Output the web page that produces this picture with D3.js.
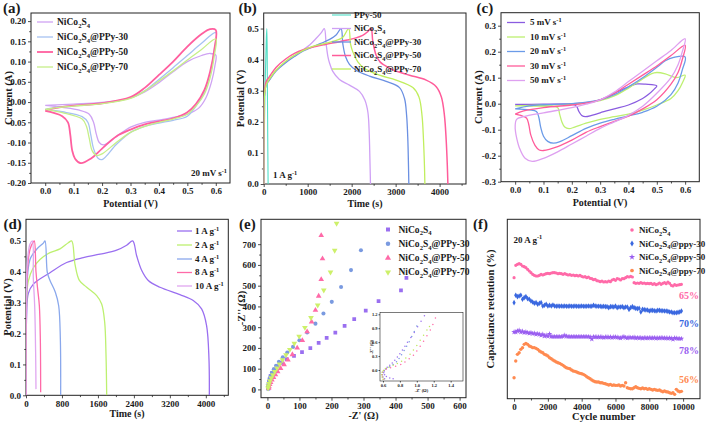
<!DOCTYPE html>
<html><head><meta charset="utf-8">
<script src="https://cdn.jsdelivr.net/npm/d3@7"></script>
<style>
body{margin:0;background:#fff}
svg text{font-family:"Liberation Serif","Times New Roman",serif;font-weight:bold;fill:#1a1a1a}
</style></head><body>
<svg id="c" width="709" height="424"></svg>
<script>
// ---------------- DATA ----------------
// (a) CV at 20 mV/s  [V, I]
const aNiCo = [[0,-0.008],[0.1,-0.005],[0.2,-0.001],[0.3,0.01],[0.35,0.025],[0.4,0.048],[0.45,0.075],[0.5,0.1],[0.55,0.115],[0.58,0.12],[0.6,0.116],[0.597,0.09],[0.585,0.05],[0.565,0.01],[0.54,-0.015],[0.5,-0.03],[0.45,-0.038],[0.4,-0.045],[0.35,-0.05],[0.3,-0.062],[0.25,-0.085],[0.205,-0.106],[0.19,-0.1],[0.18,-0.08],[0.17,-0.05],[0.155,-0.03],[0.12,-0.02],[0.06,-0.013],[0,-0.008]];
const aP30 = [[0,-0.018],[0.05,-0.012],[0.1,-0.009],[0.2,-0.003],[0.3,0.01],[0.35,0.028],[0.4,0.056],[0.45,0.085],[0.5,0.115],[0.55,0.145],[0.6,0.172],[0.595,0.13],[0.58,0.07],[0.56,0.025],[0.53,-0.01],[0.5,-0.035],[0.45,-0.045],[0.4,-0.052],[0.35,-0.06],[0.3,-0.075],[0.25,-0.105],[0.2,-0.142],[0.185,-0.138],[0.17,-0.115],[0.16,-0.08],[0.15,-0.05],[0.13,-0.036],[0.06,-0.024],[0,-0.018]];
const aP50 = [[0,-0.02],[0.05,-0.013],[0.1,-0.009],[0.2,-0.003],[0.3,0.012],[0.35,0.035],[0.4,0.067],[0.45,0.1],[0.5,0.137],[0.55,0.168],[0.58,0.18],[0.6,0.178],[0.595,0.13],[0.58,0.075],[0.56,0.03],[0.53,-0.005],[0.5,-0.025],[0.45,-0.04],[0.4,-0.048],[0.35,-0.055],[0.3,-0.068],[0.25,-0.085],[0.2,-0.115],[0.16,-0.14],[0.125,-0.151],[0.105,-0.14],[0.095,-0.12],[0.088,-0.08],[0.08,-0.05],[0.06,-0.035],[0.03,-0.027],[0,-0.022]];
const aP70 = [[0,-0.018],[0.05,-0.013],[0.1,-0.01],[0.2,-0.004],[0.3,0.009],[0.35,0.027],[0.4,0.052],[0.45,0.077],[0.5,0.104],[0.55,0.13],[0.6,0.156],[0.595,0.115],[0.58,0.06],[0.56,0.02],[0.53,-0.01],[0.5,-0.03],[0.45,-0.042],[0.4,-0.05],[0.35,-0.06],[0.3,-0.075],[0.25,-0.1],[0.2,-0.128],[0.18,-0.132],[0.165,-0.12],[0.155,-0.09],[0.145,-0.06],[0.13,-0.042],[0.06,-0.026],[0,-0.018]];
const aNames = ["NiCo_2S_4","NiCo_2S_4@PPy-30","NiCo_2S_4@PPy-50","NiCo_2S_4@PPy-70"];
const aXTicks = [0,0.1,0.2,0.3,0.4,0.5,0.6];
const aYTicks = [-0.2,-0.15,-0.1,-0.05,0,0.05,0.1,0.15,0.2];

// (b) GCD at 1 A/g  [t, V]
const bPPy = [[0,0],[30,0.3],[60,0.47],[72,0.5],[82,0.35],[92,0.15],[100,0]];
const bNiCo = [[0,0],[5,0.2],[20,0.29],[60,0.32],[130,0.335],[280,0.365],[500,0.392],[700,0.413],[900,0.432],[1050,0.448],[1190,0.468],[1306,0.486],[1378,0.5],[1420,0.45],[1460,0.41],[1495,0.39],[1571,0.362],[1722,0.336],[1950,0.318],[2178,0.298],[2300,0.27],[2370,0.23],[2400,0.16],[2415,0.08],[2428,0]];
const bP30 = [[0,0],[5,0.2],[20,0.29],[60,0.32],[130,0.334],[280,0.363],[500,0.39],[700,0.41],[900,0.428],[1100,0.44],[1300,0.452],[1500,0.465],[1646,0.479],[1758,0.5],[1800,0.45],[1860,0.41],[1950,0.385],[2102,0.366],[2405,0.347],[2785,0.33],[3088,0.31],[3202,0.275],[3250,0.22],[3278,0.14],[3292,0.06],[3300,0]];
const bP50 = [[0,0],[5,0.2],[20,0.3],[60,0.33],[130,0.345],[280,0.375],[500,0.402],[700,0.42],[900,0.432],[1100,0.44],[1400,0.449],[1700,0.457],[1900,0.463],[2100,0.47],[2250,0.478],[2350,0.488],[2440,0.5],[2480,0.46],[2557,0.414],[2650,0.392],[2747,0.382],[2936,0.367],[3316,0.35],[3695,0.334],[3923,0.313],[4040,0.28],[4110,0.22],[4150,0.14],[4175,0.06],[4188,0]];
const bP70 = [[0,0],[5,0.2],[20,0.29],[60,0.32],[130,0.337],[280,0.366],[500,0.395],[700,0.414],[900,0.43],[1100,0.442],[1400,0.452],[1650,0.462],[1800,0.472],[1932,0.5],[1975,0.45],[2026,0.425],[2140,0.393],[2291,0.372],[2633,0.35],[3012,0.334],[3392,0.31],[3530,0.28],[3600,0.22],[3634,0.14],[3655,0.06],[3665,0]];
const bNames = ["PPy-50","NiCo_2S_4","NiCo_2S_4@PPy-30","NiCo_2S_4@PPy-50","NiCo_2S_4@PPy-70"];
const bXTicks = [0,1000,2000,3000,4000];
const bYTicks = [0,0.1,0.2,0.3,0.4,0.5];

// (c) CV of NiCo2S4@PPy-50 at several scan rates [V, I]
const c5 = [[0,-0.003],[0.1,-0.002],[0.2,0.0],[0.25,0.004],[0.3,0.015],[0.35,0.04],[0.4,0.065],[0.43,0.076],[0.46,0.075],[0.5,0.068],[0.49,0.055],[0.47,0.035],[0.45,0.02],[0.4,-0.005],[0.35,-0.02],[0.3,-0.035],[0.27,-0.045],[0.248,-0.05],[0.235,-0.045],[0.225,-0.03],[0.218,-0.012],[0.21,-0.005],[0.1,-0.003],[0,-0.003]];
const c10 = [[0,-0.008],[0.1,-0.005],[0.2,-0.002],[0.3,0.012],[0.35,0.03],[0.4,0.06],[0.45,0.095],[0.48,0.115],[0.5,0.12],[0.53,0.115],[0.57,0.1],[0.6,0.11],[0.59,0.08],[0.575,0.05],[0.55,0.02],[0.5,-0.005],[0.45,-0.025],[0.4,-0.04],[0.35,-0.05],[0.3,-0.06],[0.25,-0.075],[0.21,-0.09],[0.19,-0.096],[0.175,-0.09],[0.165,-0.07],[0.157,-0.04],[0.15,-0.015],[0.12,-0.01],[0.05,-0.009],[0,-0.008]];
const c20 = [[0,-0.02],[0.05,-0.008],[0.1,-0.004],[0.2,0.0],[0.3,0.015],[0.35,0.035],[0.4,0.065],[0.45,0.1],[0.5,0.14],[0.53,0.165],[0.56,0.178],[0.6,0.18],[0.59,0.13],[0.575,0.08],[0.55,0.035],[0.5,-0.01],[0.45,-0.033],[0.4,-0.047],[0.35,-0.06],[0.3,-0.075],[0.25,-0.095],[0.2,-0.123],[0.16,-0.145],[0.135,-0.152],[0.115,-0.145],[0.1,-0.125],[0.09,-0.09],[0.083,-0.05],[0.075,-0.03],[0.05,-0.024],[0,-0.02]];
const c30 = [[0,-0.04],[0.03,-0.028],[0.1,-0.015],[0.2,-0.005],[0.25,0.002],[0.3,0.015],[0.35,0.04],[0.4,0.075],[0.45,0.11],[0.5,0.145],[0.55,0.185],[0.6,0.225],[0.59,0.17],[0.575,0.12],[0.55,0.075],[0.5,0.015],[0.45,-0.02],[0.4,-0.048],[0.35,-0.068],[0.3,-0.088],[0.25,-0.11],[0.2,-0.14],[0.15,-0.165],[0.1,-0.18],[0.085,-0.178],[0.07,-0.16],[0.055,-0.12],[0.048,-0.08],[0.04,-0.055],[0.02,-0.045],[0,-0.04]];
const c50 = [[0,-0.095],[0.005,-0.06],[0.03,-0.05],[0.1,-0.035],[0.2,-0.015],[0.25,-0.002],[0.3,0.015],[0.35,0.045],[0.4,0.085],[0.45,0.125],[0.5,0.165],[0.55,0.205],[0.6,0.25],[0.59,0.2],[0.575,0.15],[0.55,0.1],[0.5,0.04],[0.45,-0.01],[0.4,-0.045],[0.35,-0.07],[0.3,-0.095],[0.25,-0.125],[0.2,-0.155],[0.15,-0.185],[0.1,-0.21],[0.06,-0.222],[0.035,-0.21],[0.015,-0.17],[0.003,-0.12],[0,-0.095]];
const cNames = ["5 mV s^-1","10 mV s^-1","20 mV s^-1","30 mV s^-1","50 mV s^-1"];
const cXTicks = [0,0.1,0.2,0.3,0.4,0.5,0.6];
const cYTicks = [-0.3,-0.2,-0.1,0,0.1,0.2,0.3];

// (d) GCD of NiCo2S4@PPy-50 at several current densities [t, V]
const d1 = [[0,0],[15,0.26],[52,0.33],[163,0.36],[534,0.397],[904,0.43],[1275,0.446],[1646,0.457],[2016,0.47],[2239,0.486],[2373,0.5],[2461,0.452],[2572,0.405],[2720,0.372],[2980,0.35],[3424,0.326],[3720,0.307],[3906,0.28],[4017,0.226],[4070,0.118],[4078,0]];
const d2 = [[0,0],[20,0.33],[52,0.37],[150,0.41],[311,0.44],[534,0.462],[756,0.474],[941,0.494],[1016,0.5],[1090,0.424],[1187,0.372],[1350,0.35],[1572,0.323],[1683,0.296],[1750,0.237],[1780,0.129],[1795,0]];
const d4 = [[0,0],[15,0.33],[89,0.44],[237,0.473],[386,0.493],[423,0.5],[475,0.397],[534,0.372],[653,0.334],[727,0.29],[764,0.183],[771,0]];
const d8 = [[0,0],[30,0.4],[89,0.473],[163,0.497],[185,0.5],[222,0.4],[260,0.343],[297,0.29],[319,0.18],[326,0.01]];
const d10 = [[0,0],[30,0.43],[89,0.49],[141,0.5],[163,0.378],[193,0.29],[215,0.129],[222,0.02]];
const dNames = ["1 A g^-1","2 A g^-1","4 A g^-1","8 A g^-1","10 A g^-1"];
const dXTicks = [0,800,1600,2400,3200,4000];
const dYTicks = [0,0.1,0.2,0.3,0.4,0.5];

// (e) Nyquist plots [Z', -Z'']
const eNiCo = [[434,538],[417,477],[347,425],[307,380],[271,339],[241,306],[212,274],[185,248],[160,224],[134,199],[108,180],[83,162],[60,146],[45,128],[32,112],[22,96],[15,80],[10,65],[7,50],[5,36],[4,24],[3,12],[3,4]];
const eP30 = [[292,671],[261,575],[230,494],[201,422],[175,366],[150,317],[124,274],[100,237],[80,205],[62,178],[48,155],[36,133],[27,114],[20,97],[14,80],[10,64],[7,50],[5,36],[3,23],[2,11],[2,3]];
const eP50 = [[168,742],[172,630],[168,530],[160,450],[150,382],[138,326],[124,278],[109,236],[93,200],[78,168],[64,142],[52,120],[41,102],[32,86],[25,71],[19,58],[14,46],[10,34],[7,24],[5,14],[4,6]];
const eP70 = [[216,800],[210,670],[197,565],[176,478],[157,406],[136,346],[117,298],[99,256],[84,222],[70,192],[58,166],[47,142],[38,122],[30,103],[23,86],[17,70],[12,55],[8,41],[5,28],[3,16],[2,6]];
const eNames = ["NiCo_2S_4","NiCo_2S_4@PPy-30","NiCo_2S_4@PPy-50","NiCo_2S_4@PPy-70"];
const eXTicks = [0,100,200,300,400,500,600];
const eYTicks = [0,100,200,300,400,500,600,700];
// inset (high-frequency region)
const iNiCo = [[0.72,-0.19],[0.68,-0.17],[0.64,-0.14],[0.62,-0.1],[0.61,-0.06],[0.615,-0.02],[0.63,0.02],[0.65,0.06],[0.68,0.1],[0.71,0.15],[0.74,0.21],[0.77,0.28],[0.8,0.35],[0.83,0.43],[0.86,0.51],[0.89,0.6],[0.93,0.7],[0.97,0.81],[1.01,0.93],[1.05,1.05],[1.09,1.17]];
const iP30 = [[0.62,-0.19],[0.6,-0.15],[0.595,-0.1],[0.6,-0.05],[0.615,-0.01],[0.64,0.03],[0.68,0.07],[0.72,0.12],[0.76,0.18],[0.79,0.25],[0.82,0.33],[0.85,0.42],[0.88,0.51],[0.91,0.61],[0.94,0.72],[0.97,0.83],[1.0,0.95]];
const iP50 = [[0.61,-0.2],[0.595,-0.15],[0.59,-0.1],[0.595,-0.05],[0.61,-0.01],[0.64,0.02],[0.69,0.05],[0.75,0.08],[0.81,0.12],[0.86,0.17],[0.91,0.24],[0.96,0.32],[1.0,0.41],[1.04,0.51],[1.08,0.62],[1.12,0.74],[1.16,0.86],[1.19,0.98],[1.22,1.12]];
const iP70 = [[0.6,-0.2],[0.59,-0.15],[0.585,-0.1],[0.59,-0.05],[0.605,-0.01],[0.63,0.03],[0.67,0.06],[0.72,0.1],[0.77,0.14],[0.82,0.19],[0.87,0.26],[0.92,0.34],[0.96,0.43],[1.0,0.53],[1.04,0.64],[1.08,0.75],[1.12,0.86],[1.15,0.94]];
const iXTicks = [0.6,0.8,1.0,1.2,1.4];
const iYTicks = [0,0.3,0.6,0.9,1.2];

// (f) cycling stability at 20 A/g, one point every 100 cycles (vertical offsets as plotted)
const fCycles = d3.range(0, 10000, 100);
const fNiCo = [77.0,84.4,85.0,85.4,85.0,84.0,83.6,83.0,82.0,81.0,80.0,79.0,78.4,78.0,78.0,78.4,79.0,78.6,79.0,79.4,79.6,79.4,79.8,80.0,80.0,79.8,79.4,79.6,79.4,79.0,79.4,79.0,78.6,78.8,78.4,78.6,78.2,78.4,78.0,78.4,77.8,77.4,77.6,77.0,77.4,76.6,76.4,75.8,76.0,75.2,75.0,74.6,75.0,74.4,74.6,74.4,75.0,74.6,75.6,76.0,75.4,76.4,76.2,75.6,76.4,76.4,77.0,77.6,77.4,77.8,77.4,74.0,73.6,73.8,73.6,74.0,73.6,73.8,73.4,73.6,73.4,73.6,73.0,73.4,72.8,73.2,73.8,73.0,73.6,74.0,73.4,74.4,73.6,72.4,72.0,72.8,72.4,72.6,72.8,73.0];
const fP30 = [62,66.4,65.6,66,66.4,64,65,65.6,64.4,64,63,62.4,61.6,62,61,61.6,62,60,60.4,61,60,60.4,60,60.6,60,59.8,60,59.8,60,59.8,60,59.8,59.8,60,59.8,59.8,60,59.8,59.8,59.8,60,59.8,59.8,59.8,60,59.8,59.8,60.4,60,59.8,59.8,59.8,59.6,59.8,59.6,59.6,59,59.6,59.6,59.4,60,59,59.4,59.4,59.6,59,59.4,59.4,58,59,59.6,59,58.6,58.4,58.6,56.4,58,57.8,57.6,57.6,57,57.4,57.4,57.2,57,57.4,57.4,57.2,57.2,57,57,56.8,56.4,56.4,56,56,56,56.2,56.4,57];
const fP50 = [44.4,44.4,45,45.4,44.4,44.8,44,44.4,44,43.6,44,43.4,43.6,43,43.4,43,42.4,43,42,42.4,41.8,43.2,41.6,41.6,41.6,41.6,41.6,41.6,41.6,41.8,42.4,41.8,41.6,41.6,41.6,41.6,41.6,41.6,41.6,41.6,41.6,41.6,41.6,41.6,41.6,41.4,40.2,41.6,41.4,41.4,41.4,41.4,41.4,41.0,41.4,41.4,41.2,41.4,41.0,41.4,41.4,41.2,41.0,40.8,41.2,41.6,41.0,40.8,41.2,41.0,41.0,41.2,40.8,41.0,40.8,41.0,40.6,41.0,40.8,40.8,41.0,40.8,40.8,41.0,40.6,40.8,40.8,41.0,40.8,40.8,40.8,40.6,40.8,40.6,40.0,40.8,40.6,40.4,40.4,40.4];
const fP70 = [17,27,31,32,34,35,37,37.6,37,36,35.6,35,35,34.6,34,33,32.4,32,31,30.6,30,29,28.4,27.6,27,26.4,26,25.6,25,24.4,23.6,23,22.6,22.4,21.6,21,20.8,20.4,20,19.6,19.4,19,18.4,17.6,17,16.4,15.6,15,14.6,14.4,14.4,14,14,13.6,13.4,13,12.6,13,12.4,12.6,12.4,12.4,12.6,12,12.4,12,14,11,10.6,10.4,10.4,11,11.6,11,10.6,10.4,10.8,10.4,10.6,10,10.4,10,9.6,10,9.6,9.4,9.6,9,8.6,9,8.6,8.4,8,7.6,8,7,10,9,8.6,8.8];
const fNames = ["NiCo_2S_4","NiCo_2S_4@ppy-30","NiCo_2S_4@ppy-50","NiCo_2S_4@ppy-70"];
const fRetention = ["65%","70%","78%","56%"];
const fXTicks = [0,2000,4000,6000,8000,10000];

// ---------------- DRAWING ----------------
const svg = d3.select('#c');
const FONT = '"Liberation Serif","Times New Roman",serif';
const INK = '#222';

function rich(t, s, fs) {
  const parts = s.split(/(_\d|\^-1)/).filter(p => p);
  let shift = 0;
  parts.forEach(p => {
    if (p[0] === '_') { const s2 = fs*0.3; t.append('tspan').attr('dy', s2 - shift).attr('font-size', fs*0.7).text(p.slice(1)); shift = s2; }
    else if (p[0] === '^') { const s2 = -fs*0.38; t.append('tspan').attr('dy', s2 - shift).attr('font-size', fs*0.7).text(p.slice(1)); shift = s2; }
    else { t.append('tspan').attr('dy', -shift).text(p); shift = 0; }
  });
  return t;
}
function txt(x, y, s, fs, opt = {}) {
  const t = svg.append('text').attr('x', x).attr('y', y).attr('font-size', fs);
  if (opt.anchor) t.attr('text-anchor', opt.anchor);
  if (opt.fill) t.style('fill', opt.fill);
  if (opt.rot) t.attr('transform', `rotate(-90,${x},${y})`);
  return rich(t, s, fs);
}
let clipN = 0;
function panel(o) {
  const ts = o.ts || 3, fs = o.fs || 9, tp = o.tp || 2;
  const x = d3.scaleLinear().domain(o.xd).range([o.l, o.r]);
  const y = d3.scaleLinear().domain(o.yd).range([o.b, o.t]);
  const g = svg.append('g');
  const style = s => { s.select('.domain').remove(); s.attr('font-family', FONT).attr('font-size', fs).attr('font-weight', 'bold'); s.selectAll('line').attr('stroke', INK).attr('stroke-width', 0.8); s.selectAll('text').style('fill', '#1a1a1a'); };
  if (o.xm) g.append('g').attr('transform', `translate(0,${o.b})`).call(d3.axisBottom(x).tickValues(o.xm).tickSize(ts*0.6).tickFormat('')).call(style);
  g.append('g').attr('transform', `translate(0,${o.b})`).call(d3.axisBottom(x).tickValues(o.xt).tickSize(ts).tickPadding(tp).tickFormat(o.xf)).call(style);
  if (o.ym) g.append('g').attr('transform', `translate(${o.l},0)`).call(d3.axisLeft(y).tickValues(o.ym).tickSize(ts*0.6).tickFormat('')).call(style);
  if (o.yt) g.append('g').attr('transform', `translate(${o.l},0)`).call(d3.axisLeft(y).tickValues(o.yt).tickSize(ts).tickPadding(tp).tickFormat(o.yf)).call(style);
  g.append('rect').attr('x', o.l).attr('y', o.t).attr('width', o.r - o.l).attr('height', o.b - o.t).attr('fill', 'none').attr('stroke', INK).attr('stroke-width', o.sw || 1);
  const id = 'clip' + (clipN++);
  svg.append('clipPath').attr('id', id).append('rect').attr('x', o.l).attr('y', o.t).attr('width', o.r - o.l).attr('height', o.b - o.t);
  const p = svg.append('g').attr('clip-path', `url(#${id})`);
  return { x, y, p };
}
const fmt = n => v => v.toFixed(n);
const mids = (arr) => arr.slice(0, -1).map((v, i) => (v + arr[i + 1]) / 2);
function lines(P, series, curve) {
  const ln = d3.line().x(d => P.x(d[0])).y(d => P.y(d[1])).curve(curve || d3.curveCatmullRom.alpha(0.5));
  series.forEach(s => P.p.append('path').attr('d', ln(s.d)).attr('fill', 'none').attr('stroke', s.c).attr('stroke-width', s.w || 1.3).attr('stroke-linejoin', 'round'));
}
function lineLegend(series, names, x1, x2, tx, ys, fs) {
  series.forEach((s, i) => {
    svg.append('line').attr('x1', x1).attr('x2', x2).attr('y1', ys[i]).attr('y2', ys[i]).attr('stroke', s.c).attr('stroke-width', s.w || 1.3);
    txt(tx, ys[i] + fs*0.33, names[i], fs);
  });
}

// ---- (a)
{
  const P = panel({ l: 31, r: 230, t: 13, b: 183, xd: [-0.05, 0.65], yd: [-0.2, 0.22], xt: aXTicks, xm: mids(aXTicks), xf: fmt(1), yt: aYTicks, ym: mids(aYTicks), yf: fmt(2) });
  const S = [{ d: aNiCo, c: '#cfa3f3' }, { d: aP30, c: '#a6c2f2' }, { d: aP50, c: '#ff5f9f', w: 1.8 }, { d: aP70, c: '#c6ef88' }];
  lines(P, S);
  lineLegend(S, aNames, 37, 53, 57, [22, 37, 52, 67], 9.5);
  txt(227, 176, "20 mV s^-1", 9, { anchor: 'end' });
  txt(130.5, 206.5, "Potential (V)", 10, { anchor: 'middle' });
  txt(11.5, 98, "Current (A)", 10.5, { anchor: 'middle', rot: true });
  txt(3, 13, "(a)", 15);
}
// ---- (b)
{
  const P = panel({ l: 263.7, r: 466, t: 13, b: 184, xd: [0, 4600], yd: [0, 0.55], xt: bXTicks, xm: [500, 1500, 2500, 3500, 4500], xf: d3.format('d'), yt: bYTicks, ym: mids(bYTicks), yf: fmt(1) });
  const S = [{ d: bPPy, c: '#4fdfc6', w: 1.1 }, { d: bNiCo, c: '#cfa0f5' }, { d: bP30, c: '#6b90e2' }, { d: bP50, c: '#ff5c9a', w: 1.5 }, { d: bP70, c: '#c0ee5e' }];
  lines(P, S);
  lineLegend(S, bNames, 332, 351, 354, [15, 28.5, 42, 55.5, 69], 9);
  txt(273, 178, "1 A g^-1", 9);
  txt(365, 206.5, "Time (s)", 10, { anchor: 'middle' });
  txt(244, 98.5, "Potential (V)", 10.5, { anchor: 'middle', rot: true });
  txt(238.5, 13, "(b)", 15);
}
// ---- (c)
{
  const P = panel({ l: 501, r: 699.3, t: 12.7, b: 181.7, xd: [-0.05, 0.65], yd: [-0.3, 0.35], xt: cXTicks, xm: mids(cXTicks), xf: fmt(1), yt: cYTicks, ym: mids(cYTicks), yf: fmt(1) });
  const S = [{ d: c5, c: '#8a5ce0' }, { d: c10, c: '#bdf070' }, { d: c20, c: '#6b9be8' }, { d: c30, c: '#ff5c9a' }, { d: c50, c: '#dea0f0' }];
  lines(P, S);
  lineLegend(S, cNames, 507, 525, 530, [22.5, 37, 51.5, 66, 80.5], 9);
  txt(600, 206, "Potential (V)", 10, { anchor: 'middle' });
  txt(481.5, 97, "Current (A)", 10.5, { anchor: 'middle', rot: true });
  txt(476.5, 13, "(c)", 15);
}
// ---- (d)
{
  const P = panel({ l: 26, r: 228.3, t: 219.3, b: 395.3, xd: [0, 4500], yd: [0, 0.57], xt: dXTicks, xm: [400, 1200, 2000, 2800, 3600, 4400], xf: d3.format('d'), yt: dYTicks, ym: mids(dYTicks), yf: fmt(1) });
  const S = [{ d: d1, c: '#9a6ff0' }, { d: d2, c: '#bdf070' }, { d: d4, c: '#8aa8ec' }, { d: d8, c: '#ff6aa8' }, { d: d10, c: '#e0a6f0' }];
  lines(P, S);
  lineLegend(S, dNames, 177, 192, 195, [231, 245, 259, 272.5, 286], 9);
  txt(127, 417, "Time (s)", 10, { anchor: 'middle' });
  txt(10.5, 307, "Potential (V)", 10.5, { anchor: 'middle', rot: true });
  txt(3.5, 229, "(d)", 15);
}
// ---- (e)
{
  const P = panel({ l: 261, r: 466, t: 219.3, b: 397.7, xd: [-20, 620], yd: [-40, 820], xt: eXTicks, xm: mids(eXTicks), xf: d3.format('d'), yt: eYTicks, ym: mids(eYTicks), yf: d3.format('d') });
  const sym = [d3.symbolSquare, d3.symbolCircle, d3.symbolTriangle, d3.symbolTriangle];
  const rot = [0, 0, 0, 180];
  const S = [{ d: eNiCo, c: '#9a6ff0' }, { d: eP30, c: '#7a9ae0' }, { d: eP50, c: '#ff6aa8' }, { d: eP70, c: '#cdf06a' }];
  S.forEach((s, k) => {
    const path = d3.symbol().type(sym[k]).size(k === 1 ? 13 : 14)();
    P.p.selectAll(null).data(s.d).enter().append('path').attr('d', path)
      .attr('transform', d => `translate(${P.x(d[0])},${P.y(d[1])}) rotate(${rot[k]})`).attr('fill', s.c);
  });
  const ly = [229.5, 243.7, 258, 272.2];
  S.forEach((s, k) => {
    svg.append('path').attr('d', d3.symbol().type(sym[k]).size(16)()).attr('transform', `translate(388,${ly[k]}) rotate(${rot[k]})`).attr('fill', s.c);
    txt(398.5, ly[k] + 3.1, eNames[k], 9.5);
  });
  // inset
  const I = panel({ l: 380, r: 463, t: 312.5, b: 381, xd: [0.565, 1.546], yd: [-0.237, 1.239], xt: iXTicks, xf: fmt(1), yt: iYTicks, yf: fmt(1), ts: 1.5, tp: 1, fs: 4.5, sw: 0.6 });
  const IS = [{ d: iNiCo, c: '#9a6ff0' }, { d: iP30, c: '#7a9ae0' }, { d: iP50, c: '#ff6aa8' }, { d: iP70, c: '#bfe860' }];
  IS.forEach(s => I.p.selectAll(null).data(s.d).enter().append('circle').attr('cx', d => I.x(d[0])).attr('cy', d => I.y(d[1])).attr('r', 0.75).attr('fill', s.c));
  txt(421.5, 392, "-Z' (Ω)", 4.5, { anchor: 'middle' });
  txt(373, 347, "-Z'' (Ω)", 4.5, { anchor: 'middle', rot: true });
  txt(363.5, 419, "-Z' (Ω)", 10, { anchor: 'middle' });
  txt(244.5, 308, "-Z'' (Ω)", 10.5, { anchor: 'middle', rot: true });
  txt(239, 229, "(e)", 15);
}
// ---- (f)
{
  const P = panel({ l: 507.3, r: 700, t: 219.3, b: 398.7, xd: [-400, 11000], yd: [4.4, 112], xt: fXTicks, xm: mids(fXTicks), xf: d3.format('d') });
  const cols = ['#ff6aa8', '#3a68e0', '#9a5ef0', '#ff8a50'];
  const sym = [d3.symbolCircle, d3.symbolDiamond, d3.symbolStar, d3.symbolCircle];
  const sz = [8, 9, 10, 9];
  [fNiCo, fP30, fP50, fP70].forEach((vals, k) => {
    const path = d3.symbol().type(sym[k]).size(sz[k])();
    P.p.selectAll(null).data(vals).enter().append('path').attr('d', path)
      .attr('transform', (v, i) => `translate(${P.x(fCycles[i])},${P.y(v)})`).attr('fill', cols[k]);
  });
  const ly = [230, 243.5, 257, 270.5];
  cols.forEach((c, k) => {
    svg.append('path').attr('d', d3.symbol().type(sym[k]).size(sz[k] + 2)()).attr('transform', `translate(632,${ly[k]})`).attr('fill', c);
    txt(639, ly[k] + 3, fNames[k], 9);
  });
  const ry = [298.5, 326.5, 353.5, 382.5];
  fRetention.forEach((s, k) => txt(679, ry[k], s, 10, { fill: cols[k] }));
  txt(513.5, 242.5, "20 A g^-1", 9);
  txt(603.7, 420, "Cycle number", 10.5, { anchor: 'middle' });
  txt(493.5, 309, "Capacitance retention (%)", 10.5, { anchor: 'middle', rot: true });
  txt(473, 229, "(f)", 15);
}
</script>
</body></html>
